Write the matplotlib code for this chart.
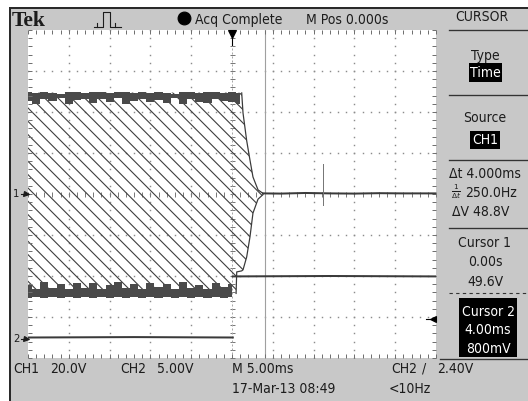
import numpy as np
import matplotlib
matplotlib.use("Agg")
import matplotlib.pyplot as plt
from matplotlib import font_manager as fm
from matplotlib.patches import Rectangle
from matplotlib.lines import Line2D
from matplotlib.ticker import MultipleLocator
import matplotlib.transforms as mtrans

# ---------------- data ----------------
time_per_div_ms = 5.0
ch1_volts_per_div = 20.0
ch2_volts_per_div = 5.0
ch2_ground_div = -3.53          # CH2 ground marker position (divisions from centre)
ch2_trigger_level = 2.40
cursor1_ms = 0.0
cursor2_ms = 4.0

# CH1 burst envelope (ms, V)
env_t  = [-25.0, 0.0, 0.5, 0.58, 1.19, 1.35, 1.8, 2.2, 2.57, 3.19, 3.8]
env_hi = [49.5, 49.5, 49.5, 49.5, 49.3, 39.5, 26.0, 16.6, 8.3, 2.0, 0.3]
env_lo = [-49.5, -49.5, -48.5, -38.0, -37.5, -37.0, -30.7, -21.0, -9.3, -2.5, -0.3]

# ripple on the top / bottom of the burst (ms, V)
ripple_hi_t = np.arange(-25.0, 1.5, 1.0)
ripple_hi_top = [49.8, 49.2, 50.0, 49.5, 49.0, 49.8, 50.0, 49.3, 49.6, 49.9, 49.1, 49.7, 50.0, 49.4,
                 49.8, 49.2, 49.9, 49.5, 49.0, 49.8, 50.0, 49.3, 49.7, 49.9, 49.4, 49.6, 49.5]
ripple_hi_in = [45.5, 44.0, 46.5, 45.2, 46.8, 44.0, 45.8, 46.5, 44.5, 46.2, 45.0, 46.8, 44.0, 45.5,
                46.5, 44.8, 46.0, 44.5, 46.8, 44.0, 46.2, 45.0, 44.2, 46.5, 45.2, 45.0, 44.0]
ripple_lo_t = np.arange(-25.0, 0.5, 1.0)
ripple_lo_bot = [-50.5, -50.1, -50.8, -50.3, -50.6, -50.0, -50.7, -50.4, -50.5, -50.1, -50.8, -50.3, -50.5,
                 -50.2, -50.7, -50.4, -50.5, -50.0, -50.8, -50.3, -50.5, -50.1, -50.7, -50.4, -50.5, -50.2]
ripple_lo_in = [-44.5, -46.5, -43.0, -46.0, -44.0, -46.5, -43.5, -46.0, -43.2, -46.5, -44.5, -43.0, -46.0,
                -43.8, -46.5, -43.2, -45.5, -44.0, -46.5, -43.0, -46.0, -44.2, -46.5, -43.2, -45.5, -44.0]

# CH1 after the burst
ch1_tail_t = [3.8, 6.0, 9.0, 12.0, 15.0, 18.0, 21.0, 25.0]
ch1_tail_v = [0.3, 0.2, 0.5, 0.3, 0.2, 0.4, 0.3, 0.3]
ch1_spike_t = [11.2, 11.2]
ch1_spike_v = [14.5, -5.5]

# CH2 (ms, V)
ch2_pre_t = [-25.0, -12.0, 0.1]
ch2_pre_v = [0.15, 0.2, 0.15]
ch2_post_t = [0.1, 12.0, 25.0]
ch2_post_v = [7.6, 7.65, 7.6]

# texts
brand = "Tek"
acq_status = "Acq Complete"
mpos_text = "M Pos 0.000s"
menu_title = "CURSOR"
type_label, type_value = "Type", "Time"
source_label, source_value = "Source", "CH1"
delta_t_text = "Δt 4.000ms"
inv_dt_value = "250.0Hz"
delta_v_text = "ΔV 48.8V"
cursor1_lines = ["Cursor 1", "0.00s", "49.6V"]
cursor2_lines = ["Cursor 2", "4.00ms", "800mV"]
ch1_label, ch1_scale = "CH1", "20.0V"
ch2_label, ch2_scale = "CH2", "5.00V"
timebase_text = "M 5.00ms"
date_text = "17-Mar-13 08:49"
trig_src, trig_slope, trig_level_text = "CH2", "/", "2.40V"
freq_text = "<10Hz"

# ---------------- style ----------------
W, H, DPI = 528, 401, 80
BG = "#c8c8c8"
INK = "#1c1c1c"
TRACE = "#3a3a3a"

names = {f.name for f in fm.fontManager.ttflist}
if "Liberation Sans Narrow" in names:
    SANS, FS, STRETCH = "Liberation Sans Narrow", 14.5, "normal"
else:
    SANS, FS, STRETCH = "DejaVu Sans", 12.5, "condensed"

plt.rcParams["hatch.linewidth"] = 1.0

fig = plt.figure(figsize=(W / DPI, H / DPI), dpi=DPI, facecolor="white")


def fx(x):
    return x / W


def fy(y):
    return 1 - y / H


def ftext(x, yc, s, ha="left", color=INK, size=FS, **kw):
    fig.text(fx(x), fy(yc + 0.36 * size * DPI / 72), s, ha=ha, va="baseline", color=color,
             fontsize=size, family=[SANS, "DejaVu Sans"], fontstretch=STRETCH, **kw)


def fline(xs, ys, **kw):
    fig.add_artist(Line2D([fx(v) for v in xs], [fy(v) for v in ys], **kw))


def fbox(x0, y0, x1, y1, color="black", z=2):
    fig.add_artist(Rectangle((fx(x0), fy(y1)), (x1 - x0) / W, (y1 - y0) / H,
                             transform=fig.transFigure, facecolor=color, edgecolor="none", zorder=z))


# screen background
fig.add_artist(Rectangle((fx(10), 0), 1 - fx(10), fy(8), transform=fig.transFigure,
                         facecolor=BG, edgecolor="none", zorder=-5))
fline([10, W], [8, 8], color="#2a2a2a", lw=1.8, zorder=-4)
fline([10, 10], [8, H], color="#2a2a2a", lw=1.8, zorder=-4)

# ---------------- graticule axes ----------------
ax = fig.add_axes([fx(28), fy(358), 408 / W, 328 / H])
ax.set_facecolor("white")
half_t = 5 * time_per_div_ms
ax.set_xlim(-half_t, half_t)
ax.set_ylim(-4 * ch1_volts_per_div, 4 * ch1_volts_per_div)
ax2 = ax.twinx()
ax2.set_ylim((-4 - ch2_ground_div) * ch2_volts_per_div, (4 - ch2_ground_div) * ch2_volts_per_div)
ax2.set_yticks([])
for a in (ax, ax2):
    for sp in a.spines.values():
        sp.set_visible(False)

minor_t = time_per_div_ms / 5
minor_v = ch1_volts_per_div / 5
ax.xaxis.set_major_locator(MultipleLocator(time_per_div_ms))
ax.xaxis.set_minor_locator(MultipleLocator(minor_t))
ax.yaxis.set_major_locator(MultipleLocator(ch1_volts_per_div))
ax.yaxis.set_minor_locator(MultipleLocator(minor_v))
ax.tick_params(which="both", direction="in", length=3.2, width=0.9, colors="#707070",
               top=True, right=True, labelbottom=False, labelleft=False)

mx = np.arange(-half_t, half_t + 0.01, minor_t)
my = np.arange(-4 * ch1_volts_per_div, 4 * ch1_volts_per_div + 0.01, minor_v)
gx = [v for v in np.arange(-half_t + time_per_div_ms, half_t, time_per_div_ms) if abs(v) > 1e-9]
gy = [v for v in np.arange(-3 * ch1_volts_per_div, 3 * ch1_volts_per_div + 0.01, ch1_volts_per_div) if abs(v) > 1e-9]
X1, Y1 = np.meshgrid(gx, my)
X2, Y2 = np.meshgrid(mx, gy)
dot = dict(ls="none", marker="s", ms=1.3, mew=0, color="#8c8c8c", zorder=0.5)
ax.plot(X1.ravel(), Y1.ravel(), **dot)
ax.plot(X2.ravel(), Y2.ravel(), **dot)
ax.plot(np.zeros_like(my), my, ls="none", marker="_", ms=4.5, mew=0.9, color="#7a7a7a", zorder=0.5)
ax.plot(mx, np.zeros_like(mx), ls="none", marker="|", ms=4.5, mew=0.9, color="#7a7a7a", zorder=0.5)

# cursors
ax.axvline(cursor2_ms, color="#a0a0a0", lw=1.0, zorder=0.6)
ax.axvline(cursor1_ms, color="#a8a8a8", lw=0.9, ls=(0, (2, 2)), zorder=0.6)

# CH1 burst (aliased signal drawn as hatch)
ax.fill_between(env_t, env_lo, env_hi, facecolor="none", edgecolor="#3e3e3e",
                hatch="\\\\", linewidth=0, zorder=1)
ax.fill_between(ripple_hi_t, ripple_hi_in, ripple_hi_top, step="mid", color="#4a4a4a", lw=0, zorder=1.5)
ax.fill_between(ripple_lo_t, ripple_lo_bot, ripple_lo_in, step="mid", color="#4a4a4a", lw=0, zorder=1.5)
ax.plot(env_t[4:], env_hi[4:], color=TRACE, lw=1.1, zorder=1.6)
ax.plot(env_t[2:], env_lo[2:], color=TRACE, lw=1.1, zorder=1.6)

# CH1 after burst
ax.plot(ch1_tail_t, ch1_tail_v, color=TRACE, lw=1.8, zorder=2)
ax.plot(ch1_spike_t, ch1_spike_v, color="#777777", lw=0.9, zorder=2)

# CH2
ax2.plot(ch2_pre_t, ch2_pre_v, color=TRACE, lw=1.8, zorder=2)
ax2.plot(ch2_post_t, ch2_post_v, color=TRACE, lw=1.8, zorder=2)

# markers: trigger position, trigger level, channel grounds
trig_pos = mtrans.blended_transform_factory(ax.transData, ax.transAxes)
ax.plot([0.0], [0.988], transform=trig_pos, marker="v", ms=6.5, color="black", clip_on=False, zorder=5)
ax.plot([0.0, 0.0], [0.975, 0.955], transform=trig_pos, color="black", lw=1, clip_on=False, zorder=5)
lvl = mtrans.blended_transform_factory(ax2.transAxes, ax2.transData)
ax2.plot([0.993], [ch2_trigger_level], transform=lvl, marker="<", ms=5.5, color="black", clip_on=False, zorder=5)
ax2.plot([0.975, 0.985], [ch2_trigger_level] * 2, transform=lvl, color="black", lw=1, clip_on=False, zorder=5)
g1 = mtrans.blended_transform_factory(ax.transAxes, ax.transData)
ax.plot([-0.018, -0.004], [0, 0], transform=g1, color=INK, lw=1, clip_on=False, zorder=5)
ax.plot([-0.006], [0], transform=g1, marker=">", ms=4.5, color=INK, clip_on=False, zorder=5)
g2 = mtrans.blended_transform_factory(ax.transAxes, ax2.transData)
ax2.plot([-0.018, -0.004], [0, 0], transform=g2, color=INK, lw=1, clip_on=False, zorder=5)
ax2.plot([-0.006], [0], transform=g2, marker=">", ms=4.5, color=INK, clip_on=False, zorder=5)
ftext(16, 193, "1", ha="center", size=FS * 0.8)
ftext(16, 338, "2", ha="center", size=FS * 0.8)

# ---------------- top bar ----------------
fig.text(fx(12), fy(19 + 7.5), brand, ha="left", va="baseline", fontsize=19.5,
         family=["Liberation Serif", "DejaVu Serif"], weight="bold", color=INK)
fline([94, 103, 103, 110, 110, 121], [27, 27, 12, 12, 27, 27], color=INK, lw=1.0)
fline([97, 97], [27, 23], color=INK, lw=1.0)
fline([115, 115], [27, 23], color=INK, lw=1.0)
fig.add_artist(Line2D([fx(184)], [fy(18)], marker="o", ms=11.5, color="black", ls="none"))
ftext(195, 19, acq_status)
ftext(306, 19, mpos_text)

# ---------------- right menu ----------------
PX = 485
ftext(PX - 3, 16, menu_title, ha="center")
fline([449, W], [30, 30], color="#333333", lw=1.2)
ftext(PX, 55, type_label, ha="center")
fbox(469, 63, 502, 82)
ftext(PX, 72, type_value, ha="center", color="white")
fline([449, W], [95, 95], color="#333333", lw=1.2)
ftext(PX, 117, source_label, ha="center")
fbox(470, 131, 500, 149)
ftext(PX, 139, source_value, ha="center", color="white")
fline([449, W], [160, 160], color="#333333", lw=1.2)
ftext(449, 173, delta_t_text)
fig.text(fx(456), fy(192), r"$\frac{1}{\Delta t}$", ha="center", va="center", fontsize=9.5, color=INK)
ftext(465, 192, inv_dt_value)
ftext(452, 211, delta_v_text)
fline([449, W], [228, 228], color="#333333", lw=1.2)
for i, s in enumerate(cursor1_lines):
    ftext(PX, 242 + 19.5 * i, s, ha="center")
fline([449, W], [293, 293], color="#333333", lw=1.0, ls=(0, (3, 3)))
fbox(459, 298, 517, 357)
for i, s in enumerate(cursor2_lines):
    ftext(488, 311 + 18.5 * i, s, ha="center", color="white")
fline([440, W], [359, 359], color="#333333", lw=1.2)

# ---------------- bottom bar ----------------
ftext(13, 368, ch1_label)
ftext(50, 368, ch1_scale)
ftext(120, 368, ch2_label)
ftext(157, 368, ch2_scale)
ftext(232, 368, timebase_text)
ftext(232, 388, date_text)
ftext(391, 368, trig_src)
ftext(422, 368, trig_slope)
ftext(437, 368, trig_level_text)
ftext(389, 388, freq_text)

fig.savefig("out.png", dpi=DPI, facecolor="white")
